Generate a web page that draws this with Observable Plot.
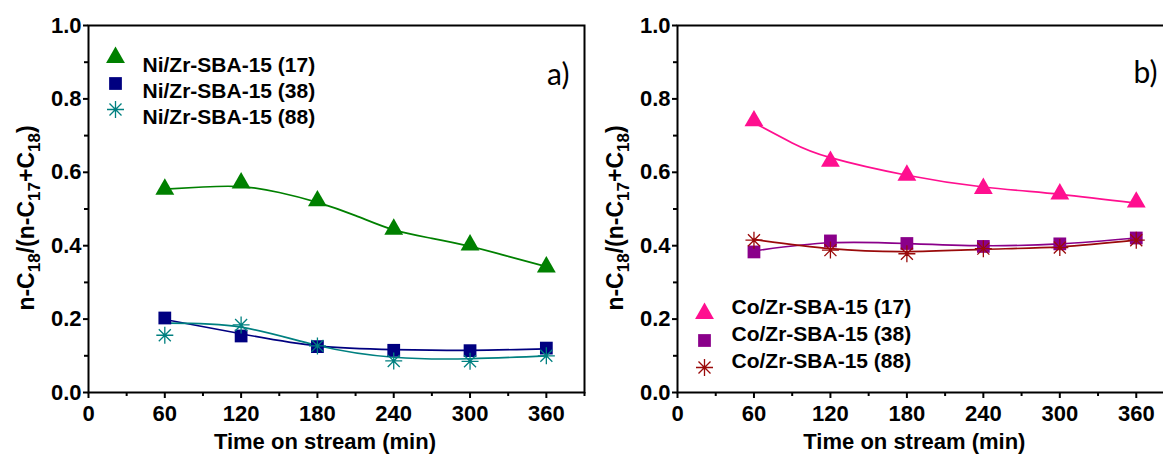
<!DOCTYPE html>
<html>
<head>
<meta charset="utf-8">
<script src="https://cdn.jsdelivr.net/npm/d3@7"></script>
<script src="https://cdn.jsdelivr.net/npm/@observablehq/plot@0.6"></script>
<style>
  html, body { margin: 0; padding: 0; background: #fff; }
  #wrap { position: relative; width: 1163px; height: 455px; overflow: hidden; background: #fff; }
  #left, #right { position: absolute; top: 0; width: 595px; height: 455px; }
  #left { left: 0; }
  #right { left: 595px; }
  svg { font-family: "Liberation Sans", Arial, sans-serif; overflow: visible; max-width: none !important; }
</style>
</head>
<body>
<div id="wrap"><div id="left"></div><div id="right"></div></div>
<script>
// ---------- data ----------
const time = [60, 120, 180, 240, 300, 360];
const xTicks = [0, 60, 120, 180, 240, 300, 360];
const xMinor = [30, 90, 150, 210, 270, 330, 390];
const yTicks = [0, 0.2, 0.4, 0.6, 0.8, 1.0];
const yMinor = [0.1, 0.3, 0.5, 0.7, 0.9];

const niNames = ["Ni/Zr-SBA-15 (17)", "Ni/Zr-SBA-15 (38)", "Ni/Zr-SBA-15 (88)"];
const coNames = ["Co/Zr-SBA-15 (17)", "Co/Zr-SBA-15 (38)", "Co/Zr-SBA-15 (88)"];

// measured points
const ni17 = [0.554, 0.571, 0.522, 0.445, 0.402, 0.342];
const ni38 = [0.203, 0.154, 0.125, 0.115, 0.114, 0.121];
const ni88 = [0.156, 0.184, 0.127, 0.086, 0.085, 0.100];
const co17 = [0.740, 0.630, 0.592, 0.556, 0.541, 0.519];
const co38 = [0.383, 0.413, 0.406, 0.398, 0.405, 0.421];
const co88 = [0.415, 0.388, 0.378, 0.392, 0.395, 0.415];

// fitted curves
const ni17FitT = [60, 90, 120, 150, 180, 210, 240, 270, 300, 330, 360];
const ni17Fit  = [0.554, 0.560, 0.561, 0.545, 0.518, 0.482, 0.443, 0.420, 0.398, 0.371, 0.343];
const ni38Fit  = [0.199, 0.160, 0.127, 0.117, 0.115, 0.119];
const ni88Fit  = [0.189, 0.178, 0.128, 0.096, 0.092, 0.100];
const co17FitT = [60, 90, 120, 180, 240, 300, 360];
const co17Fit  = [0.735, 0.680, 0.640, 0.592, 0.560, 0.540, 0.516];
const co38Fit  = [0.386, 0.408, 0.406, 0.400, 0.405, 0.421];
const co88Fit  = [0.417, 0.392, 0.384, 0.390, 0.397, 0.415];

const niColors = ["#008000", "#000080", "#008080"];
const coColors = ["#FF0F8F", "#8A008A", "#9A0A0A"];

// ---------- helpers ----------
const star8 = {
  draw(ctx, size) {
    const r = Math.sqrt(size / Math.PI);
    for (let k = 0; k < 4; k++) {
      const a = k * Math.PI / 4;
      const dx = r * Math.cos(a), dy = r * Math.sin(a);
      ctx.moveTo(-dx, -dy); ctx.lineTo(dx, dy);
    }
  }
};
const symbols = ["triangle", "square", star8];
const radii = [7, 7.2, 8.5];

const rows = (ts, vs) => ts.map((t, i) => ({t, v: vs[i]}));

function panel({el, marginLeft, marginRight, points, fits, colors, names, letter, letterDx, letterDy, legendAnchor, legendDy}) {
  const width = 595, height = 455;
  const marks = [];
  fits.forEach((f, i) => {
    marks.push(Plot.line(f, {x: "t", y: "v", curve: "natural", stroke: colors[i], strokeWidth: 1.7}));
  });
  points.forEach((p, i) => {
    const isStar = i === 2;
    marks.push(Plot.dot(p, {x: "t", y: "v", symbol: symbols[i], r: radii[i],
      fill: isStar ? "none" : colors[i], stroke: colors[i], strokeWidth: isStar ? 1.3 : 0}));
  });
  // legend
  names.forEach((n, i) => {
    const isStar = i === 2;
    marks.push(Plot.dot([n], {frameAnchor: legendAnchor, dx: 27, dy: legendDy[i], symbol: symbols[i], r: radii[i],
      fill: isStar ? "none" : colors[i], stroke: colors[i], strokeWidth: isStar ? 1.3 : 0}));
    marks.push(Plot.text([n], {frameAnchor: legendAnchor, dx: 54, dy: legendDy[i], text: d => d, textAnchor: "start",
      fontSize: 21, fontWeight: "bold", fill: "#000"}));
  });
  marks.push(Plot.text([letter], {frameAnchor: "top-right", dx: letterDx, dy: letterDy, text: d => d, textAnchor: "end",
    fontFamily: "Lato, 'Open Sans', sans-serif", fontSize: 30, fill: "#000"}));
  // axes
  marks.push(Plot.axisX(xTicks, {tickSize: 6, tickPadding: 7, fontSize: 22, fontWeight: "bold", strokeWidth: 2, label: null}));
  marks.push(Plot.axisX(xMinor, {tickSize: 4, strokeWidth: 2, text: null, label: null}));
  marks.push(Plot.axisY(yTicks, {tickSize: 5, tickPadding: 2, fontSize: 22, fontWeight: "bold", strokeWidth: 2,
    tickFormat: d3.format(".1f"), label: null}));
  marks.push(Plot.axisY(yMinor, {tickSize: 4, strokeWidth: 2, text: null, label: null}));
  marks.push(Plot.frame({stroke: "#000", strokeWidth: 2}));

  const svg = Plot.plot({
    width, height,
    marginLeft, marginRight, marginTop: 25, marginBottom: 63,
    x: {domain: [0, 390]},
    y: {domain: [0, 1.0]},
    marks
  });
  // axis titles (with subscripts)
  const s = d3.select(svg);
  const plotW = width - marginLeft - marginRight;
  s.append("text")
    .attr("x", marginLeft + plotW * 180 / 390 + 8).attr("y", 449)
    .attr("text-anchor", "middle").attr("font-size", 22).attr("font-weight", "bold")
    .text("Time on stream (min)");
  const yt = s.append("text")
    .attr("transform", `translate(${marginLeft - 54},218) rotate(-90)`)
    .attr("text-anchor", "middle").attr("font-size", 23).attr("font-weight", "bold");
  const parts = [["n-C", 0], ["18", 1], ["/(n-C", 0], ["17", 1], ["+C", 0], ["18", 1], [")", 0]];
  let prevSub = 0;
  parts.forEach(([txt, sub]) => {
    const t = yt.append("tspan").text(txt);
    const dy = (sub ? 6 : 0) - (prevSub ? 6 : 0);
    if (dy) t.attr("dy", dy);
    if (sub) t.attr("font-size", 17);
    prevSub = sub;
  });
  document.getElementById(el).appendChild(svg);
}

panel({
  el: "left", marginLeft: 88, marginRight: 11,
  points: [rows(time, ni17), rows(time, ni38), rows(time, ni88)],
  fits: [rows(ni17FitT, ni17Fit), rows(time, ni38Fit), rows(time, ni88Fit)],
  colors: niColors, names: niNames, letter: "a)", letterDx: -15, letterDy: 38,
  legendAnchor: "top-left", legendDy: [32, 58, 84]
});
panel({
  el: "right", marginLeft: 82, marginRight: 16,
  points: [rows(time, co17), rows(time, co38), rows(time, co88)],
  fits: [rows(co17FitT, co17Fit), rows(time, co38Fit), rows(time, co88Fit)],
  colors: coColors, names: coNames, letter: "b)", letterDx: -17, letterDy: 36,
  legendAnchor: "bottom-left", legendDy: [-79, -52, -25]
});
</script>
</body>
</html>
